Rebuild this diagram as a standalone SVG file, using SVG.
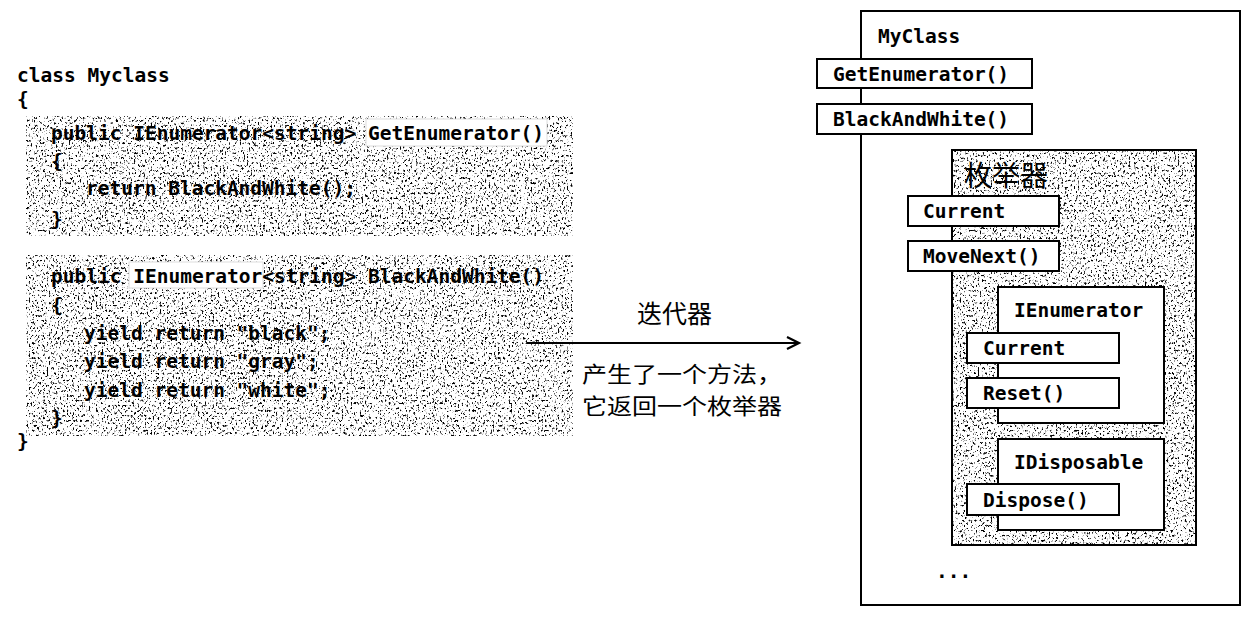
<svg xmlns="http://www.w3.org/2000/svg" width="1248" height="619" viewBox="0 0 1248 619">
  <style>
    .code { font-family: "DejaVu Sans Mono", "Liberation Mono", monospace; font-size: 19.5px; font-weight: bold; fill: #000; }
    .cjk { font-family: "Noto Sans CJK SC", "Noto Sans", sans-serif; font-size: 22px; fill: #000; }
    .box { fill: #fff; stroke: #000; stroke-width: 2; }
    .line { fill: none; stroke: #000; stroke-width: 2; }
  </style>
  <defs>
    <filter id="speckle" x="0" y="0" width="100%" height="100%">
      <feTurbulence type="fractalNoise" baseFrequency="0.55 0.4" numOctaves="3" seed="11"/>
      <feColorMatrix type="matrix" values="0 0 0 0 0  0 0 0 0 0  0 0 0 0 0  -7 0 0 0 2.95"/>
      <feComposite operator="in" in2="SourceGraphic"/>
    </filter>
    <marker id="chev" markerUnits="userSpaceOnUse" markerWidth="16" markerHeight="16" refX="13" refY="7" orient="auto" viewBox="0 0 16 14">
      <path d="M1,1 L13,7 L1,13" fill="none" stroke="#000" stroke-width="2.2"/>
    </marker>
  </defs>
  <rect width="1248" height="619" fill="#fff"/>

  <!-- Left: source code -->
  <g id="class-code">
    <text class="code" x="17" y="82">class Myclass</text>
    <text class="code" x="17" y="106">{</text>
    <text class="code" x="17" y="448">}</text>
  </g>

  <g id="method-getenumerator">
    <rect x="26" y="116" width="547" height="120" fill="#fff"/>
    <rect x="26" y="116" width="547" height="120" fill="#000" filter="url(#speckle)"/>
    <rect x="366" y="119" width="181" height="27" fill="#fff" stroke="#ddd" stroke-width="1"/>
    <text class="code" x="51" y="140">public IEnumerator&lt;string&gt; GetEnumerator()</text>
    <text class="code" x="51" y="168">{</text>
    <text class="code" x="86" y="195">return BlackAndWhite();</text>
    <text class="code" x="51" y="226">}</text>
  </g>

  <g id="method-blackandwhite">
    <rect x="26" y="255" width="547" height="181" fill="#fff"/>
    <rect x="26" y="255" width="547" height="181" fill="#000" filter="url(#speckle)"/>
    <rect x="129" y="262" width="134" height="26" fill="#fff" stroke="#ddd" stroke-width="1"/>
    <text class="code" x="51" y="283">public IEnumerator&lt;string&gt; BlackAndWhite()</text>
    <text class="code" x="51" y="312">{</text>
    <text class="code" x="84" y="340">yield return "black";</text>
    <text class="code" x="84" y="368">yield return "gray";</text>
    <text class="code" x="84" y="397">yield return "white";</text>
    <text class="code" x="51" y="425">}</text>
  </g>

  <!-- Connectors -->
  <g id="connectors">
    <path class="line" d="M527,343 H799" marker-end="url(#chev)"/>
    <path class="line" d="M1017,118 H1042 Q1062,118 1062,141" marker-end="url(#chev)"/>
  </g>

  <g id="arrow-labels">
    <text class="cjk" x="637" y="323" style="font-size: 25px;">迭代器</text>
    <text class="cjk" x="582" y="382" textLength="200" lengthAdjust="spacingAndGlyphs">产生了一个方法，</text>
    <text class="cjk" x="582" y="414" textLength="200" lengthAdjust="spacingAndGlyphs">它返回一个枚举器</text>
  </g>

  <!-- Right: MyClass object -->
  <g id="myclass">
    <rect class="box" x="861" y="11" width="379" height="594"/>
    <text class="code" x="878" y="43">MyClass</text>
  </g>
  <g id="myclass-getenumerator">
    <rect class="box" x="817" y="59" width="215" height="29"/>
    <text class="code" x="833" y="81">GetEnumerator()</text>
  </g>
  <g id="myclass-blackandwhite">
    <rect class="box" x="817" y="104" width="215" height="30"/>
    <text class="code" x="833" y="126">BlackAndWhite()</text>
  </g>

  <g id="enumerator">
    <rect x="952" y="150" width="244" height="395" fill="#fff"/>
    <rect x="952" y="150" width="244" height="395" fill="#000" filter="url(#speckle)"/>
    <rect x="952" y="150" width="244" height="395" class="line"/>
    <text x="964" y="186" style="font-family: 'Noto Sans CJK SC', 'Noto Sans', sans-serif; font-size: 28px;">枚举器</text>
  </g>
  <g id="enum-current">
    <rect class="box" x="908" y="196" width="151" height="30"/>
    <text class="code" x="923" y="218">Current</text>
  </g>
  <g id="enum-movenext">
    <rect class="box" x="908" y="241" width="151" height="30"/>
    <text class="code" x="923" y="263">MoveNext()</text>
  </g>

  <g id="ienumerator">
    <rect class="box" x="998" y="287" width="166" height="136"/>
    <text class="code" x="1014" y="317">IEnumerator</text>
  </g>
  <g id="ienum-current">
    <rect class="box" x="967" y="333" width="152" height="30"/>
    <text class="code" x="983" y="355">Current</text>
  </g>
  <g id="ienum-reset">
    <rect class="box" x="967" y="378" width="152" height="30"/>
    <text class="code" x="983" y="400">Reset()</text>
  </g>

  <g id="idisposable">
    <rect class="box" x="998" y="439" width="166" height="91"/>
    <text class="code" x="1014" y="469">IDisposable</text>
  </g>
  <g id="idisp-dispose">
    <rect class="box" x="967" y="484" width="152" height="31"/>
    <text class="code" x="983" y="507">Dispose()</text>
  </g>

  <g id="ellipsis">
    <text class="code" x="936" y="578">...</text>
  </g>
</svg>
